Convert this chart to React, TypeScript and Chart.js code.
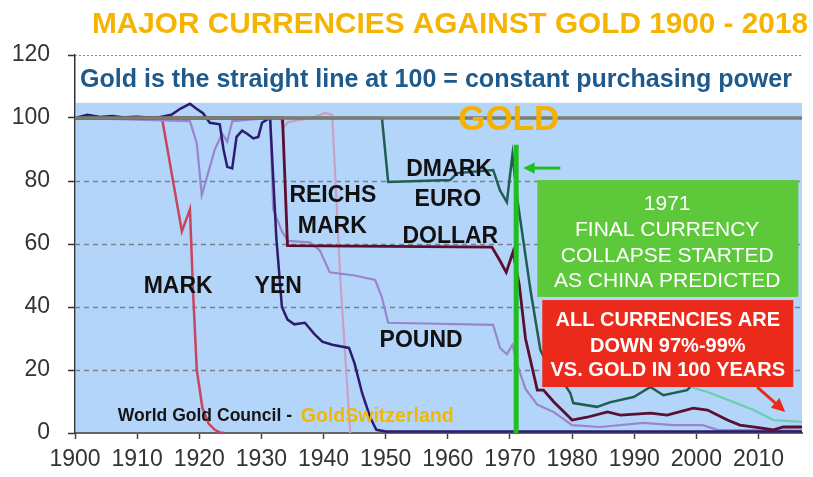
import React, { useEffect, useRef } from 'react';
import { Chart, registerables } from 'chart.js';

Chart.register(...registerables);

const FONT = '"Liberation Sans", Arial, Helvetica, sans-serif';

// ---- data (years, values against gold = 100) ----
const goldYears = [1900, 2017];
const goldValues = [100, 100];

const markYears = [1900, 1914, 1917.2, 1918.5, 1919, 1919.6, 1920.5, 1921.5, 1922.5, 1923.3, 1924];
const markValues = [100, 100, 64, 71, 45, 20, 8, 3, 1, 0.2, 0];

const yenYears = [1900, 1902, 1904, 1906, 1908, 1910, 1913, 1915.5, 1917, 1918.5, 1919.5, 1920.6, 1921.7, 1923.3, 1923.9, 1924.5, 1925.3, 1926, 1926.9, 1927.7, 1928.7, 1929.5, 1930.1, 1930.9, 1931.4, 1932.4, 1933.3, 1934.2, 1935.3, 1937, 1938.5, 1939.8, 1941.4, 1944.1, 1945, 1946.2, 1947.5, 1948.5, 1950, 2017];
const yenValues = [100, 101, 100.3, 100.6, 100.2, 100.4, 100, 101, 103, 104.5, 103, 101.5, 98.5, 98, 90, 84.5, 84, 94, 96, 95, 93.5, 94, 98.5, 99.5, 100, 62, 40, 36, 34.5, 35, 31.5, 29, 28, 27, 22, 12.7, 5, 1, 0.5, 0.5];

const poundYears = [1900, 1918.5, 1919.6, 1920.4, 1921.2, 1922.5, 1923.7, 1924.5, 1925.3, 1931.4, 1931.9, 1933.3, 1934.3, 1937.8, 1939.4, 1941, 1945, 1948.3, 1949.4, 1950.4, 1967.3, 1968.4, 1969.5, 1970.4, 1971.3, 1972.5, 1974.4, 1977, 1980, 1984.5, 1991.5, 1996.3, 2001, 2003.4, 2017];
const poundValues = [100, 99, 92, 75.5, 81, 90, 95, 92.5, 99, 100, 71, 64, 61, 60.5, 58, 51, 50, 48.6, 43, 35, 34.3, 27, 25, 28, 21, 14, 9, 6.7, 2.5, 1.9, 3.2, 2.5, 2.5, 1, 0.8];

const dollarYears = [1900, 1933.4, 1934.2, 1967.1, 1968.3, 1969.4, 1970.5, 1971.5, 1972.5, 1974.4, 1975.4, 1977, 1980, 1982.4, 1985.7, 1987.8, 1992.6, 1995.3, 1999.5, 2001.8, 2005, 2007, 2010.3, 2012.4, 2014, 2017];
const dollarValues = [100, 100, 59.5, 59, 55, 51, 57.5, 47, 30, 13.6, 13.6, 10, 4.1, 5, 6.7, 5.7, 6.3, 5.7, 7.9, 7.3, 4.1, 2.5, 1.6, 1, 1.9, 1.9];

const dmarkYears = [1900, 1949.4, 1950.4, 1960.4, 1961.5, 1967.3, 1968.4, 1969.5, 1970.4, 1971.2, 1973.3, 1974.9, 1976, 1978, 1979.7, 1980.2, 1984, 1986.2, 1989.9, 1992.6, 1994.7, 1998.5, 1999];
const dmarkValues = [100, 100, 79.7, 80.3, 82.5, 83.5, 77, 73.3, 88.3, 74, 45.4, 26.3, 22, 18, 12.7, 9.5, 8.3, 9.8, 11.4, 14.6, 12, 13.6, 14.6];

const euroYears = [1999, 2001.8, 2006, 2009.2, 2012.4, 2017];
const euroValues = [14.6, 13, 9.8, 7.3, 4.1, 3.5];

const reichsYears = [1900, 1933, 1933.5, 1934.3, 1938, 1940.3, 1941.4, 1942.7, 1944.3];
const reichsValues = [100, 100, 96.8, 98.7, 100, 101.6, 101, 48.6, 0];

const markerYears = [1971, 1971];
const markerValues = [0, 91.5];

const xTickYears = [1900, 1910, 1920, 1930, 1940, 1950, 1960, 1970, 1980, 1990, 2000, 2010];
const yTickValues = [0, 20, 40, 60, 80, 100, 120];
const gridValues = [20, 40, 60, 80];

const TITLE = 'MAJOR CURRENCIES AGAINST GOLD 1900 - 2018';
const SUBTITLE = 'Gold is the straight line at 100 = constant purchasing power';

// ---- styles ----
const BG_BLUE = '#b4d5fa';
const BG_TOP = 104.8;

const pts = (xs: number[], ys: number[]) => xs.map((x, i) => ({ x, y: ys[i] }));

type Label = { text: string; x: number; y: number; size: number; weight: string; color: string; align?: CanvasTextAlign; maxWidth?: number };

const labels: Label[] = [
  { text: 'MARK', x: 1916.6, y: 47, size: 23, weight: 'bold', color: '#111' },
  { text: 'YEN', x: 1932.7, y: 47, size: 23, weight: 'bold', color: '#111' },
  { text: 'REICHS', x: 1941.5, y: 75.8, size: 23, weight: 'bold', color: '#111' },
  { text: 'MARK', x: 1941.4, y: 66.2, size: 23, weight: 'bold', color: '#111' },
  { text: 'DMARK', x: 1960.2, y: 84.1, size: 23, weight: 'bold', color: '#111' },
  { text: 'EURO', x: 1960.0, y: 74.6, size: 23, weight: 'bold', color: '#111' },
  { text: 'DOLLAR', x: 1960.4, y: 62.9, size: 23, weight: 'bold', color: '#111' },
  { text: 'POUND', x: 1955.7, y: 29.8, size: 23, weight: 'bold', color: '#111' },
  { text: 'GOLD', x: 1969.8, y: 100.3, size: 35, weight: 'bold', color: '#f5b000' },
];

function capText(ctx: CanvasRenderingContext2D, text: string, x: number, cy: number, size: number, weight: string, color: string, align: CanvasTextAlign = 'center', maxWidth?: number) {
  ctx.save();
  ctx.font = `${weight} ${size}px ${FONT}`;
  ctx.fillStyle = color;
  ctx.textAlign = align;
  ctx.textBaseline = 'alphabetic';
  const base = cy + size * 0.358;
  if (maxWidth) ctx.fillText(text, x, base, maxWidth);
  else ctx.fillText(text, x, base);
  ctx.restore();
}

function arrow(ctx: CanvasRenderingContext2D, x1: number, y1: number, x2: number, y2: number, color: string, width: number, head: number) {
  const ang = Math.atan2(y2 - y1, x2 - x1);
  ctx.save();
  ctx.strokeStyle = color;
  ctx.fillStyle = color;
  ctx.lineWidth = width;
  ctx.beginPath();
  ctx.moveTo(x1, y1);
  ctx.lineTo(x2 - Math.cos(ang) * head * 0.8, y2 - Math.sin(ang) * head * 0.8);
  ctx.stroke();
  ctx.beginPath();
  ctx.moveTo(x2, y2);
  ctx.lineTo(x2 - head * Math.cos(ang - 0.45), y2 - head * Math.sin(ang - 0.45));
  ctx.lineTo(x2 - head * Math.cos(ang + 0.45), y2 - head * Math.sin(ang + 0.45));
  ctx.closePath();
  ctx.fill();
  ctx.restore();
}

const decorPlugin = {
  id: 'decor',
  beforeDraw(chart: any) {
    const { ctx, chartArea: a, scales } = chart;
    const top = scales.y.getPixelForValue(BG_TOP);
    ctx.save();
    ctx.fillStyle = '#ffffff';
    ctx.fillRect(0, 0, chart.width, chart.height);
    ctx.fillStyle = BG_BLUE;
    ctx.fillRect(a.left + 1, top, a.right - a.left - 1, a.bottom - top);
    ctx.restore();
  },
  beforeDatasetsDraw(chart: any) {
    const { ctx, chartArea: a, scales } = chart;
    ctx.save();
    ctx.strokeStyle = '#7a7f88';
    ctx.lineWidth = 1.5;
    ctx.setLineDash([5, 4]);
    gridValues.forEach((v) => {
      const y = Math.round(scales.y.getPixelForValue(v)) + 0.5;
      ctx.beginPath();
      ctx.moveTo(a.left, y);
      ctx.lineTo(a.right, y);
      ctx.stroke();
    });
    ctx.strokeStyle = '#888';
    ctx.lineWidth = 1;
    ctx.setLineDash([2, 2]);
    const y120 = Math.round(scales.y.getPixelForValue(120)) + 0.5;
    ctx.beginPath();
    ctx.moveTo(a.left, y120);
    ctx.lineTo(a.right, y120);
    ctx.stroke();
    ctx.restore();
  },
  afterDatasetsDraw(chart: any) {
    const { ctx, scales } = chart;
    const X = (v: number) => scales.x.getPixelForValue(v);
    const Y = (v: number) => scales.y.getPixelForValue(v);

    labels.forEach((l) => capText(ctx, l.text, X(l.x), Y(l.y), l.size, l.weight, l.color, l.align || 'center', l.maxWidth));

    // green box
    ctx.save();
    ctx.fillStyle = '#5cc83a';
    ctx.fillRect(X(1974.4), Y(80.3), X(2016.4) - X(1974.4), Y(43.2) - Y(80.3));
    ctx.restore();
    const gcx = X(1995.3);
    capText(ctx, '1971', gcx, Y(73.3), 21, 'normal', '#fff');
    capText(ctx, 'FINAL CURRENCY', gcx, Y(65.0), 21, 'normal', '#fff', 'center', 191);
    capText(ctx, 'COLLAPSE STARTED', gcx, Y(56.7), 21, 'normal', '#fff', 'center', 223);
    capText(ctx, 'AS CHINA PREDICTED', gcx, Y(48.8), 21, 'normal', '#fff', 'center', 237);

    // red box
    ctx.save();
    ctx.fillStyle = '#ec2a1c';
    ctx.fillRect(X(1975.2), Y(42.2), X(2015.6) - X(1975.2), Y(14.6) - Y(42.2));
    ctx.restore();
    const rcx = X(1995.4);
    capText(ctx, 'ALL CURRENCIES ARE', rcx, Y(36.2), 20, 'bold', '#fff', 'center', 227);
    capText(ctx, 'DOWN 97%-99%', rcx, Y(27.9), 20, 'bold', '#fff', 'center', 167);
    capText(ctx, 'VS. GOLD IN 100 YEARS', rcx, Y(20.3), 20, 'bold', '#fff', 'center', 239);

    // arrows
    arrow(ctx, X(1978.1), Y(84.1), X(1972.1), Y(84.1), '#1fbf1f', 3, 13);
    arrow(ctx, X(2009.8), Y(14.6), X(2014.3), Y(6.7), '#ec2a1c', 3, 15);

    // source
    capText(ctx, 'World Gold Council - ', X(1906.9), Y(5.7), 18, 'bold', '#151515', 'left', 179);
    ctx.save();
    ctx.font = `bold 18px ${FONT}`;
    const w = Math.min(ctx.measureText('World Gold Council - ').width, 179);
    ctx.restore();
    capText(ctx, 'GoldSwitzerland', X(1906.9) + w + 4, Y(5.7), 19.5, 'bold', '#f2b705', 'left', 156);
  },
  afterDraw(chart: any) {
    const { ctx } = chart;
    capText(ctx, TITLE, 92, 22, 30, 'bold', '#f6b400', 'left', 716);
    capText(ctx, SUBTITLE, 80, 78, 25.5, 'bold', '#1e5a8c', 'left', 712);
  },
};

export default function App() {
  const ref = useRef<HTMLCanvasElement | null>(null);

  useEffect(() => {
    if (!ref.current) return;
    const line = (data: any, color: string, width: number, extra: any = {}) => ({
      data,
      borderColor: color,
      backgroundColor: color,
      borderWidth: width,
      pointRadius: 0,
      fill: false,
      tension: 0,
      ...extra,
    });
    const chart = new Chart(ref.current, {
      type: 'line',
      data: {
        datasets: [
          line(pts(markerYears, markerValues), '#1fbf1f', 5),
          line(pts(goldYears, goldValues), '#7b7d6e', 3.5),
          line(pts(dmarkYears, dmarkValues), '#1f5e50', 2.5),
          line(pts(euroYears, euroValues), '#6ccdb0', 2.2),
          line(pts(dollarYears, dollarValues), '#5a0f30', 2.8),
          line(pts(yenYears, yenValues), '#2c1b6e', 2.5),
          line(pts(poundYears, poundValues), '#9886cc', 2.2),
          line(pts(reichsYears, reichsValues), '#c7a0c6', 2.2),
          line(pts(markYears, markValues), '#c8455f', 2.5),
        ],
      },
      options: {
        responsive: false,
        animation: false,
        devicePixelRatio: 1,
        parsing: false as any,
        normalized: true,
        layout: { padding: { left: 0, right: 11, top: 55, bottom: 0 } },
        plugins: { legend: { display: false }, tooltip: { enabled: false }, title: { display: false } },
        scales: {
          x: {
            type: 'linear',
            min: 1900,
            max: 2017,
            afterBuildTicks: (s: any) => { s.ticks = xTickYears.map((v) => ({ value: v })); },
            afterFit: (s: any) => { s.height = 44; },
            ticks: {
              autoSkip: false,
              maxRotation: 0,
              padding: 7,
              color: '#333',
              font: { family: FONT, size: 23 },
              callback: (v: any) => String(v),
            },
            grid: { drawOnChartArea: false, drawTicks: true, tickLength: 6, tickColor: '#444', tickWidth: 1.5 },
            border: { display: true, color: '#666', width: 2 },
          },
          y: {
            type: 'linear',
            min: 0,
            max: 120,
            afterBuildTicks: (s: any) => { s.ticks = yTickValues.map((v) => ({ value: v })); },
            afterFit: (s: any) => { s.width = 75; },
            ticks: {
              padding: 18,
              color: '#333',
              font: { family: FONT, size: 23 },
              callback: (v: any) => String(v),
            },
            grid: { drawOnChartArea: false, drawTicks: true, tickLength: 7, tickColor: '#333', tickWidth: 1.5 },
            border: { display: true, color: '#333', width: 1.5 },
          },
        },
      },
      plugins: [decorPlugin],
    } as any);
    return () => chart.destroy();
  }, []);

  return (
    <div style={{ position: 'fixed', left: 0, top: 0, width: 813, height: 477, background: '#fff' }}>
      <canvas ref={ref} width={813} height={477} style={{ width: 813, height: 477, display: 'block' }} />
    </div>
  );
}
